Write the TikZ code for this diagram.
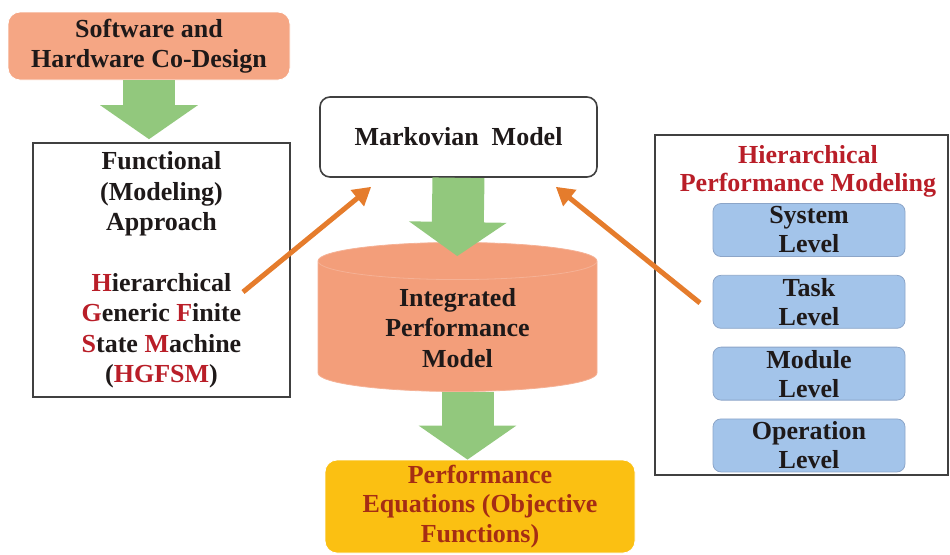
\documentclass[tikz,border=0pt]{standalone}
\usepackage{fontspec}
\setmainfont{Liberation Serif}
\usetikzlibrary{arrows.meta,positioning,shapes.geometric,calc}
\definecolor{CoSalmon}{RGB}{245,166,132}
\definecolor{CylSalmon}{RGB}{243,158,122}
\definecolor{ArrGreen}{RGB}{146,200,125}
\definecolor{ArrOrange}{RGB}{229,124,44}
\definecolor{HRed}{RGB}{185,30,40}
\definecolor{EqYellow}{RGB}{251,192,18}
\definecolor{EqText}{RGB}{165,45,20}
\definecolor{LvlBlue}{RGB}{163,196,234}
\definecolor{LvlLine}{RGB}{140,165,200}
\definecolor{InkDark}{RGB}{30,25,25}

\begin{document}
\begin{tikzpicture}[x=0.5pt,y=-0.5pt,txt/.style={font=\fontsize{13}{15.2}\selectfont\bfseries,align=center,text=InkDark,inner sep=1pt},box/.style={txt,rectangle,draw=black!75,line width=0.8pt},rbox/.style={txt,rectangle,rounded corners=6pt,draw=white},lvl/.style={txt,rectangle,rounded corners=4pt,fill=LvlBlue,draw=LvlLine,minimum width=96pt,minimum height=26.5pt,font=\fontsize{13}{14.5}\selectfont\bfseries},garrow/.style={draw=ArrGreen,line width=26pt,-{Triangle[length=17pt,width=48pt]}},oarrow/.style={draw=ArrOrange,line width=2.5pt,-{Triangle[length=9pt,width=10pt]}}]
\useasboundingbox (0,0) rectangle (950,554);
\node[rbox,fill=CoSalmon,minimum width=141pt,minimum height=34pt](cod) at (149,46){Software and\\Hardware Co-Design};
\node[box,minimum width=128.5pt,minimum height=127pt](func) at (161.5,270){Functional\\(Modeling)\\Approach\\[15.2pt]\textcolor{HRed}{H}ierarchical\\\textcolor{HRed}{G}eneric \textcolor{HRed}{F}inite\\\textcolor{HRed}{S}tate \textcolor{HRed}{M}achine\\(\textcolor{HRed}{HGFSM})};
\node[box,rounded corners=5pt,minimum width=138.5pt,minimum height=40pt](markov) at (458.5,137){Markovian\ \ Model};
\node[txt,cylinder,shape border rotate=90,aspect=0.25,fill=CylSalmon,draw=CylSalmon!80!white,minimum width=139.5pt,minimum height=74.5pt](ipm) at (457.5,328){Integrated\\Performance\\Model};
\node[rbox,fill=EqYellow,text=EqText,minimum width=155pt,minimum height=46.5pt,font=\fontsize{13}{14.75}\selectfont\bfseries](peq) at (480,506.5){Performance\\Equations (Objective\\Functions)};
% right block
\node[box,minimum width=146.5pt,minimum height=170pt](hpm) at (801.5,305){};
\node[txt,text=HRed,font=\fontsize{13}{14}\selectfont\bfseries](hpmt) at (808,171){Hierarchical\\Performance Modeling};
\node[lvl](sys) at (809,230){System\\Level};
\node[lvl,below=9pt of sys](task){Task\\Level};
\node[lvl,below=9pt of task](mod){Module\\Level};
\node[lvl,below=9pt of mod](op){Operation\\Level};
% flow
\draw[garrow,shorten >=1.5pt](cod.south)--(cod.south|-func.north);
\draw[garrow,shorten >=-7pt](markov.south)--(ipm.north);
\draw[garrow]([xshift=5pt]ipm.south)--([xshift=5pt]ipm.south|-peq.north);
\coordinate(hg) at (243,292);
\coordinate(lv) at (700,303);
\draw[oarrow](hg)--($(markov.south west)+(52,9)$);
\draw[oarrow](lv)--($(markov.south east)+(-42,9)$);
\end{tikzpicture}
\end{document}
